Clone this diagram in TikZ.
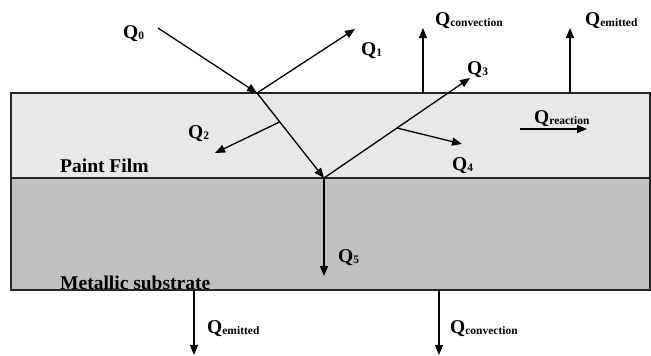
\documentclass[tikz,border=0pt]{standalone}
\usepackage{fontspec}
\setmainfont{Liberation Serif}
\usepackage{xcolor}
\usepackage{tikz}
\usetikzlibrary{arrows.meta,calc}
\definecolor{filmgray}{RGB}{232,232,232}
\definecolor{metalgray}{RGB}{192,192,192}
\newcommand{\heat}[1]{Q\raisebox{-0.12ex}{\fontsize{11.5}{11.5}\selectfont #1}}

\begin{document}
\begin{tikzpicture}[x=1pt,y=-1pt,
 font=\fontsize{19.5}{22}\selectfont\bfseries,
 layer/.style={draw=black!85,line width=1.2pt},
 ar/.style={-{Triangle[length=10pt,width=8pt]},line width=1.3pt},
 lab/.style={anchor=base west,inner sep=0pt}]
\useasboundingbox (0,0) rectangle (651,356);
% layers
\draw[layer,fill=filmgray] (11,93) rectangle (650,178);
\draw[layer,fill=metalgray] (11,178) rectangle (650,290);
% points on the rays
\coordinate (s0) at (158,28);
\coordinate (hit) at (257,93);
\coordinate (t1) at (355,29);
\coordinate (bot) at (324,178);
\coordinate (b2) at ($(hit)!0.34!(bot)$);
\coordinate (t2) at (215,153);
\coordinate (t3) at (470,78);
\coordinate (b4) at ($(bot)!0.5!(t3)$);
\coordinate (t4) at (462,144);
\coordinate (cu0) at (423,93);  \coordinate (cu1) at (423,28);
\coordinate (eu0) at (570,93);  \coordinate (eu1) at (570,28);
\coordinate (r0) at (520,129);  \coordinate (r1) at (587,129);
\coordinate (t5) at (324,276);
\coordinate (ed0) at (194,290); \coordinate (ed1) at (194,355);
\coordinate (cd0) at (439,290); \coordinate (cd1) at (439,355);
% labels
\node[lab] (q0) at (123,38) {\heat{0}};
\node[lab] (q1) at (361,55) {\heat{1}};
\node[lab] (q2) at (188,138) {\heat{2}};
\node[lab] (q3) at (467,74) {\heat{3}};
\node[lab] (q4) at (452,170) {\heat{4}};
\node[lab] (q5) at (338,262) {\heat{5}};
\node[lab] (qcu) at (435,25) {\heat{convection}};
\node[lab] (qeu) at (585,25) {\heat{emitted}};
\node[lab] (qre) at (534,123) {\heat{reaction}};
\node[lab] (qed) at (207,333) {\heat{emitted}};
\node[lab] (qcd) at (450,333) {\heat{convection}};
\node[lab] (film) at (60,172) {Paint Film};
\node[lab] (metal) at (60,289) {Metallic substrate};
% rays
\draw[ar] (s0) -- (hit);
\draw[ar] (hit) -- (t1);
\draw[ar] (hit) -- (bot);
\draw[ar] (b2) -- (t2);
\draw[ar] (bot) -- (t3);
\draw[ar] (b4) -- (t4);
\draw[ar] (bot) -- (t5);
\draw[ar] (cu0) -- (cu1);
\draw[ar] (eu0) -- (eu1);
\draw[ar] (r0) -- (r1);
\draw[ar] (ed0) -- (ed1);
\draw[ar] (cd0) -- (cd1);
\end{tikzpicture}
\end{document}
